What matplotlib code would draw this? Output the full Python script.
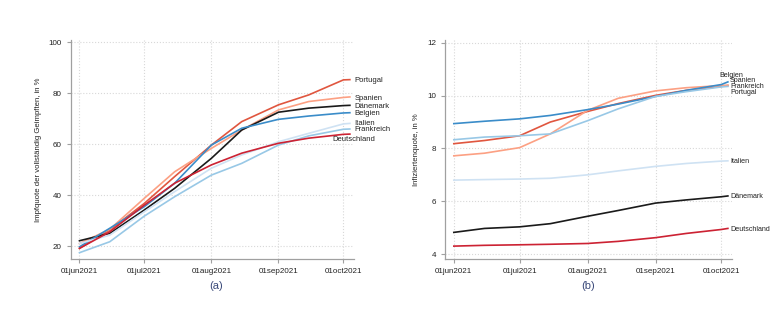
import numpy as np
import matplotlib.pyplot as plt

# read-off dates (roughly every two weeks, last point a few days into october)
dates = np.array(['2021-06-01', '2021-06-15', '2021-07-01', '2021-07-15', '2021-08-01',
                  '2021-08-15', '2021-09-01', '2021-09-15', '2021-10-01', '2021-10-04'],
                 dtype='datetime64[D]')

countries = ['Portugal', 'Spanien', 'Dänemark', 'Belgien', 'Italien', 'Frankreich', 'Deutschland']
colors = {'Portugal': '#e0563f', 'Spanien': '#fca083', 'Dänemark': '#1a1a1a',
          'Belgien': '#3a8cc9', 'Italien': '#cfe2f3', 'Frankreich': '#98c8e6',
          'Deutschland': '#cc2233'}

# (a) vaccination rate, in %
impf_portugal = [19.1, 26.3, 36.8, 47.3, 59.7, 68.9, 75.5, 79.4, 85.3, 85.4]
impf_spanien = [21.0, 26.6, 38.8, 49.2, 58.4, 65.6, 73.5, 76.8, 78.4, 78.6]
impf_daenemark = [22.1, 25.0, 34.2, 42.7, 54.5, 65.6, 72.6, 74.2, 75.2, 75.3]
impf_belgien = [19.7, 27.0, 35.5, 44.7, 59.7, 66.3, 69.8, 71.1, 72.3, 72.4]
impf_italien = [21.0, 24.3, 33.5, 41.4, 50.6, 55.8, 61.0, 64.3, 68.0, 68.2]
impf_frankreich = [17.4, 21.7, 31.8, 39.4, 47.9, 52.5, 59.7, 63.3, 65.9, 66.0]
impf_deutschland = [19.1, 25.6, 36.1, 44.7, 51.9, 56.5, 60.4, 62.4, 63.9, 64.0]

# (b) infected rate, in %
inf_portugal = [8.18, 8.30, 8.48, 9.00, 9.40, 9.70, 10.01, 10.20, 10.35, 10.38]
inf_spanien = [7.72, 7.82, 8.03, 8.55, 9.44, 9.90, 10.18, 10.30, 10.38, 10.40]
inf_daenemark = [4.82, 4.97, 5.03, 5.15, 5.43, 5.65, 5.93, 6.05, 6.17, 6.20]
inf_belgien = [8.94, 9.03, 9.12, 9.25, 9.47, 9.68, 9.97, 10.20, 10.42, 10.52]
inf_italien = [6.80, 6.82, 6.84, 6.87, 7.00, 7.15, 7.32, 7.43, 7.52, 7.53]
inf_frankreich = [8.33, 8.43, 8.48, 8.55, 9.05, 9.50, 9.97, 10.15, 10.33, 10.35]
inf_deutschland = [4.30, 4.33, 4.35, 4.37, 4.40, 4.48, 4.62, 4.78, 4.93, 4.97]

impf = dict(zip(countries, [impf_portugal, impf_spanien, impf_daenemark, impf_belgien,
                            impf_italien, impf_frankreich, impf_deutschland]))
inf = dict(zip(countries, [inf_portugal, inf_spanien, inf_daenemark, inf_belgien,
                           inf_italien, inf_frankreich, inf_deutschland]))

# label heights at the line ends
impf_lab = {'Portugal': 85.0, 'Spanien': 78.1, 'Dänemark': 75.0, 'Belgien': 72.1,
            'Italien': 68.1, 'Frankreich': 65.9, 'Deutschland': 61.7}
inf_lab = {'Belgien': 10.77, 'Spanien': 10.58, 'Frankreich': 10.33, 'Portugal': 10.13,
           'Italien': 7.51, 'Dänemark': 6.18, 'Deutschland': 4.92}

ticks = np.array(['2021-06-01', '2021-07-01', '2021-08-01', '2021-09-01', '2021-10-01'],
                 dtype='datetime64[D]')
tick_labels = ['01jun2021', '01jul2021', '01aug2021', '01sep2021', '01oct2021']

plt.rcParams['font.family'] = ['Liberation Sans', 'DejaVu Sans']
fig = plt.figure(figsize=(7.7, 3.3), dpi=100)
ax1 = fig.add_axes([0.092, 0.215, 0.368, 0.664])
ax2 = fig.add_axes([0.578, 0.215, 0.373, 0.664])


def style(ax, ylab):
    for s in ['top', 'right']:
        ax.spines[s].set_visible(False)
    for s in ['left', 'bottom']:
        ax.spines[s].set_color('#a0a0a0')
        ax.spines[s].set_linewidth(0.9)
    ax.set_xticks(ticks)
    ax.set_xticklabels(tick_labels)
    ax.tick_params(labelsize=5.8, colors='#a0a0a0', labelcolor='#222222', length=3, width=0.8)
    ax.grid(True, linestyle=':', color='#d8d8d8', linewidth=0.8)
    ax.set_ylabel(ylab, fontsize=5.6, color='#222222', labelpad=5)
    ax.set_xlim(np.datetime64('2021-06-01') - np.timedelta64(4, 'D'),
                np.datetime64('2021-06-01') + np.timedelta64(127, 'D'))


# panel (a)
for c in countries:
    ax1.plot(dates, impf[c], color=colors[c], lw=1.2)
for c in countries:
    x = dates[-1] + np.timedelta64(2, 'D')
    if c == 'Deutschland':
        x = dates[-1] - np.timedelta64(8, 'D')
    ax1.text(x, impf_lab[c], c, fontsize=5.5, va='center', color='#222222')
ax1.set_ylim(14.9, 101)
ax1.set_yticks([20, 40, 60, 80, 100])
style(ax1, 'Impfquote der vollständig Geimpften, in %')

# panel (b)
for c in countries:
    ax2.plot(dates, inf[c], color=colors[c], lw=1.2)
for c in countries:
    x = dates[-1] + np.timedelta64(1, 'D')
    if c == 'Belgien':
        x = dates[-1] - np.timedelta64(4, 'D')
    ax2.text(x, inf_lab[c], c, fontsize=5.1, va='center', color='#222222')
ax2.set_ylim(3.81, 12.11)
ax2.set_yticks([4, 6, 8, 10, 12])
style(ax2, 'Infiziertenquote, in %')

fig.text(0.281, 0.133, '(a)', fontsize=8, color='#3b4a7a', ha='center', va='center')
fig.text(0.764, 0.133, '(b)', fontsize=8, color='#3b4a7a', ha='center', va='center')

fig.savefig('out.png', dpi=100)
